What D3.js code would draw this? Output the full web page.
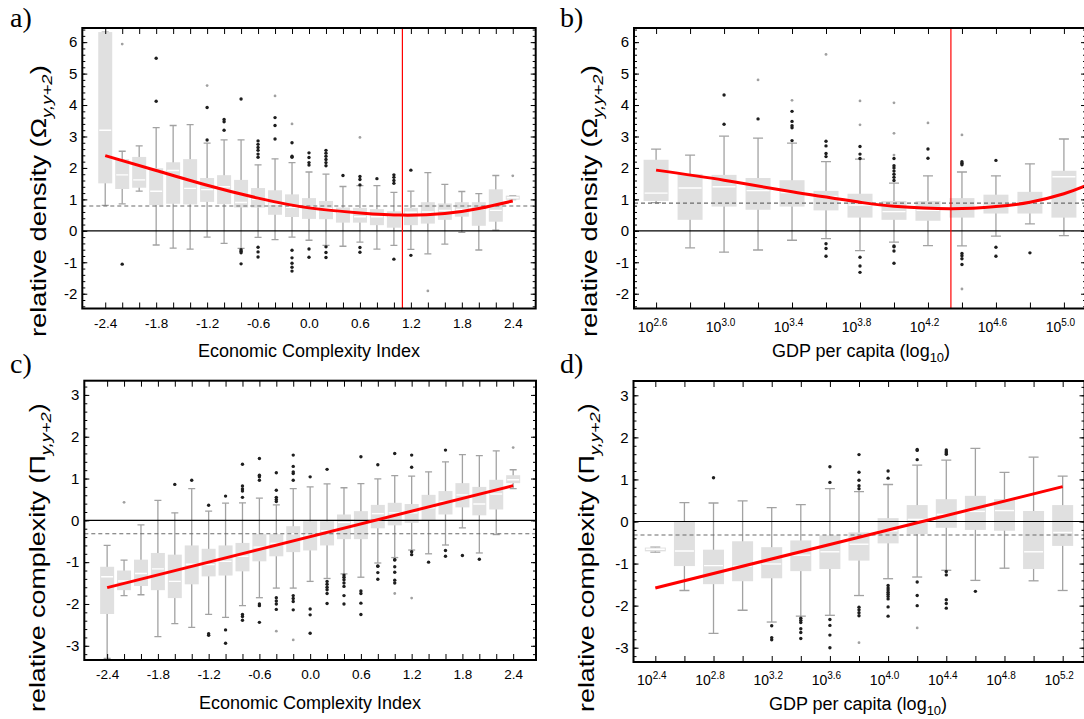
<!DOCTYPE html>
<html><head><meta charset="utf-8">
<script src="https://cdn.jsdelivr.net/npm/d3@7"></script>
<style>
body{margin:0;background:#fff}
svg{display:block}
text{font-family:"Liberation Sans",Arial,Helvetica,sans-serif;fill:#000}
</style>
</head><body>
<svg id="chart" width="1084" height="719"></svg>
<script>
// ---------- DATA ----------
const eciX = [-2.4,-2.2,-2.0,-1.8,-1.6,-1.4,-1.2,-1.0,-0.8,-0.6,-0.4,-0.2,0.0,0.2,0.4,0.6,0.8,1.0,1.2,1.4,1.6,1.8,2.0,2.2,2.4];
const eciLabels = [-2.4,-1.8,-1.2,-0.6,0.0,0.6,1.2,1.8,2.4];
const gdpXB = [2.6,2.8,3.0,3.2,3.4,3.6,3.8,4.0,4.2,4.4,4.6,4.8,5.0];
const gdpLabelsB = [2.6,3.0,3.4,3.8,4.2,4.6,5.0];
const gdpXD = [2.4,2.6,2.8,3.0,3.2,3.4,3.6,3.8,4.0,4.2,4.4,4.6,4.8,5.0,5.2];
const gdpLabelsD = [2.4,2.8,3.2,3.6,4.0,4.4,4.8,5.2];
const densityTicks = [-2,-1,0,1,2,3,4,5,6];
const complexityTicks = [-3,-2,-1,0,1,2,3];

// a) relative density vs ECI
const aLow  = [0.81,0.86,1.26,-0.45,-0.55,-0.58,-0.2,-0.4,-0.56,-0.21,-0.28,-0.2,-0.3,-0.46,-0.49,-0.36,-0.58,-0.46,-0.59,-0.73,-0.42,-0.05,-0.61,0.02,0.99];
const aQ1   = [1.51,1.33,1.37,0.82,0.86,0.84,0.92,0.85,0.74,0.74,0.51,0.44,0.38,0.37,0.26,0.26,0.18,0.1,0.18,0.23,0.35,0.45,0.16,0.29,0.99];
const aMed  = [3.2,1.78,1.62,1.26,1.92,1.35,1.31,1.4,0.9,1.0,0.85,0.75,0.76,0.71,0.59,0.45,0.45,0.47,0.59,0.6,0.65,0.68,0.69,0.65,1.05];
const aQ3   = [6.32,2.28,2.35,1.99,2.18,2.28,1.68,1.77,1.62,1.36,1.29,1.16,1.04,0.95,0.74,0.73,0.69,0.62,0.73,0.91,0.87,0.91,0.91,1.32,1.12];
const aHigh = [6.32,2.53,2.7,3.28,3.35,3.38,2.79,2.89,2.89,2.1,2.29,2.17,1.87,1.8,1.41,1.44,1.44,1.22,1.26,1.85,1.48,1.25,1.18,1.76,1.12];
const aOut  = [[],[-1.06],[],[4.12,5.49],[],[],[2.89,3.92],[3.2,3.47,3.54],[4.19,-0.6,-0.65,-0.7,-1.05],[2.34,2.44,2.56,2.65,2.75,2.86,-0.52,-0.67,-0.83],[2.92,3.35,3.6],[2.34,2.37,2.8,-0.62,-0.86,-1.03,-1.16,-1.28],[2.09,2.17,2.33,2.48,-0.58,-0.84],[2.07,2.17,2.27,2.37,2.47,2.56,-0.51,-0.69,-0.85],[1.76],[1.46,1.63,1.73,-0.53,-0.68],[1.66],[1.51,1.6,1.7,1.78,-0.9],[1.93,-0.78],[],[],[],[],[],[]];
const aFar  = [[],[5.94],[],[],[],[],[4.62],[],[],[],[4.29],[3.4],[],[],[],[2.97],[],[],[],[-1.91],[],[],[],[],[1.75]];
const aFitX = [-2.4,-1.8,-1.2,-0.6,0.0,0.6,1.1,1.6,2.0,2.4];
const aFitY = [2.39,1.92,1.45,1.04,0.73,0.57,0.5,0.55,0.71,0.95];
const aCut = 1.1, aRef = 0.79;

// b) relative density vs GDP per capita
const bLow  = [0.9,-0.54,-0.68,-0.61,-0.3,-0.25,-0.63,-0.36,-0.47,-0.48,-0.17,0.22,-0.15];
const bQ1   = [0.95,0.35,0.77,0.67,0.77,0.65,0.42,0.35,0.32,0.42,0.55,0.55,0.42];
const bMed  = [1.2,1.36,1.4,1.28,1.22,1.09,0.82,0.61,0.65,0.7,0.8,0.9,1.72];
const bQ3   = [2.26,1.81,1.78,1.68,1.61,1.27,1.18,0.95,0.95,1.04,1.15,1.24,1.91];
const bHigh = [2.6,2.41,3.01,2.95,2.79,2.2,2.28,1.52,1.75,1.87,1.75,2.13,2.92];
const bOut  = [[],[],[3.39,4.32],[3.56],[2.87,3.28,3.34,3.48,3.8],[2.36,2.46,2.7,2.85,-0.41,-0.56,-0.81],[2.3,2.44,2.68,-0.84,-1.12,-1.32],[1.6,1.7,1.8,1.9,2.0,2.07,2.3,-0.48,-0.51,-0.64,-1.03],[2.31,2.6],[2.1,2.15,2.2,-0.72,-0.79,-0.89,-1.07],[2.24,-0.52,-0.81],[-0.7],[]];
const bFar  = [[],[],[],[4.8],[4.15],[5.61],[3.37,4.13],[2.41,3.1,4.07],[3.43],[3.05,-1.85],[],[],[]];
const bFitX = [2.6,3.0,3.4,3.8,4.0,4.33,4.6,4.8,5.0,5.13];
const bFitY = [1.93,1.61,1.24,0.91,0.78,0.7,0.77,0.91,1.18,1.44];
const bCut = 4.335, bRef = 0.88;

// c) relative complexity vs ECI
const cLow  = [-3.3,-1.8,-1.78,-2.78,-2.47,-2.56,-2.25,-2.32,-2.04,-1.85,-1.62,-1.62,-1.46,-1.39,-1.28,-1.36,-1.02,-0.89,-0.71,-0.8,-0.59,-0.18,-0.78,-0.34,0.76];
const cQ1   = [-2.24,-1.67,-1.57,-1.67,-1.86,-1.53,-1.34,-1.32,-1.22,-0.98,-0.86,-0.76,-0.72,-0.6,-0.45,-0.45,-0.19,-0.12,-0.06,0.0,0.14,0.31,0.12,0.26,0.89];
const cMed  = [-1.35,-1.45,-1.27,-1.16,-1.46,-1.05,-1.06,-0.98,-0.86,-0.64,-0.55,-0.32,-0.35,-0.25,-0.05,0.0,0.16,0.18,0.18,0.3,0.45,0.61,0.39,0.63,0.97];
const cQ3   = [-1.11,-1.2,-0.94,-0.78,-0.82,-0.6,-0.68,-0.6,-0.54,-0.33,-0.33,-0.14,-0.02,-0.02,0.14,0.22,0.37,0.42,0.39,0.61,0.7,0.89,0.8,0.97,1.08];
const cHigh = [-0.6,-0.95,-0.11,0.48,0.18,0.76,0.22,0.41,0.42,0.53,0.37,0.76,0.8,0.87,0.78,0.88,0.99,1.07,1.06,1.16,1.4,1.57,1.55,1.66,1.21];
const cOut  = [[],[],[],[],[0.86],[0.96],[0.36,-2.71,-2.75],[0.58,-2.62,-2.94],[0.55,0.7,0.75,0.82,1.34,-2.25,-2.3,-2.39],[0.96,1.04,1.08,1.48,-2.0,-2.04,-2.44],[0.45,0.5,0.55,0.72,1.14,-1.85,-1.93,-2.0,-2.13],[0.96,1.12,1.16,1.29,1.56,-1.8,-1.87,-1.94,-2.14],[1.04,-2.12,-2.26,-2.7],[1.22,-1.46,-1.53,-1.6,-1.66,-1.75,-1.99],[-1.31,-1.36,-1.42,-1.5,-1.58,-1.8,-2.0],[1.52,-1.69,-1.75,-1.98,-2.25],[1.33,-1.09,-1.1,-1.25,-1.41],[1.6,-0.94,-0.95,-1.11,-1.24,-1.43,-1.5],[1.27,1.56,-0.75,-0.82],[-1.0],[1.68,-0.72,-0.86],[-0.84],[-0.93],[],[]];
const cFar  = [[],[0.43],[],[],[],[],[],[],[],[],[-2.65],[-2.86],[],[],[],[],[],[-1.75],[-1.86],[],[],[],[],[],[1.74]];
const cFitX = [-2.4,2.4];
const cFitY = [-1.61,0.83];
const cRef = -0.32;

// d) relative complexity vs GDP per capita
const dLow  = [-0.73,-1.64,-2.66,-2.11,-2.39,-2.25,-2.23,-1.76,-1.36,-1.32,-1.16,-1.4,-1.11,-1.41,-1.64];
const dQ1   = [-0.71,-1.06,-1.49,-1.42,-1.35,-1.18,-1.13,-0.93,-0.52,-0.3,-0.15,-0.2,-0.22,-1.13,-0.58];
const dMed  = [-0.66,-0.7,-1.05,-1.06,-1.01,-0.8,-0.72,-0.54,-0.22,0.05,0.17,0.24,0.26,-0.72,-0.26];
const dQ3   = [-0.62,-0.01,-0.67,-0.47,-0.61,-0.45,-0.33,-0.26,0.08,0.39,0.53,0.61,0.53,0.25,0.39];
const dHigh = [-0.61,0.45,0.44,0.49,0.33,0.4,0.78,0.71,0.88,1.34,1.46,1.74,1.17,1.53,1.08];
const dOut  = [[],[],[1.04],[],[-2.48,-2.76,-2.81],[-2.3,-2.35,-2.4,-2.55,-2.64,-2.78],[0.93,1.3,-2.33,-2.47,-2.7,-3.0],[0.78,0.85,0.98,1.17,1.59,-2.04,-2.1,-2.17,-2.24],[1.03,1.2,-1.52,-1.58,-1.63,-1.68,-1.73,-1.78,-1.84,-2.03,-2.25],[1.47,1.69,1.71,-1.44,-1.76,-2.0],[1.6,1.63,1.66,1.7,-1.19,-1.27,-1.86,-1.95,-2.06],[-1.66],[],[],[]];
const dFar  = [[],[],[],[],[],[],[],[-2.88],[],[-2.53],[],[],[],[],[]];
const dFitX = [2.4,5.2];
const dFitY = [-1.58,0.83];
const dRef = -0.32;

// ---------- DRAWING ----------
const svg = d3.select("#chart");
const near = (arr, v) => arr.some(a => Math.abs(a - v) < 1e-6);

function drawPanel(p) {
  const x = d3.scaleLinear().domain(p.xd).range([p.L, p.R]);
  const y = d3.scaleLinear().domain(p.yd).range([p.B, p.T]);
  const g = svg.append("g");
  svg.append("clipPath").attr("id", "clip" + p.id)
    .append("rect").attr("x", p.L).attr("y", p.T).attr("width", p.R - p.L).attr("height", p.B - p.T);
  const c = g.append("g").attr("clip-path", `url(#clip${p.id})`);
  const idx = d3.range(p.xs.length);

  // whiskers
  c.selectAll(".wk").data(idx).join("line")
    .attr("x1", i => x(p.xs[i])).attr("x2", i => x(p.xs[i]))
    .attr("y1", i => y(p.lo[i])).attr("y2", i => y(p.hi[i]))
    .attr("stroke", "#a2a2a2").attr("stroke-width", 1.3);
  [p.lo, p.hi].forEach(arr => {
    c.append("g").selectAll("line").data(idx).join("line")
      .attr("x1", i => x(p.xs[i]) - p.cap / 2).attr("x2", i => x(p.xs[i]) + p.cap / 2)
      .attr("y1", i => y(arr[i])).attr("y2", i => y(arr[i]))
      .attr("stroke", "#a2a2a2").attr("stroke-width", 1.3);
  });
  // boxes
  c.append("g").selectAll("rect").data(idx).join("rect")
    .attr("x", i => x(p.xs[i]) - p.bw / 2).attr("width", p.bw)
    .attr("y", i => y(p.q3[i])).attr("height", i => Math.max(1, y(p.q1[i]) - y(p.q3[i])))
    .attr("fill", "#e0e0e0");
  c.append("g").selectAll("line").data(idx).join("line")
    .attr("x1", i => x(p.xs[i]) - p.bw / 2 + 1).attr("x2", i => x(p.xs[i]) + p.bw / 2 - 1)
    .attr("y1", i => y(p.med[i])).attr("y2", i => y(p.med[i]))
    .attr("stroke", "#fff").attr("stroke-width", 1.4);
  // outliers
  const outs = idx.flatMap(i => p.out[i].map(v => [p.xs[i], v]));
  const fars = idx.flatMap(i => p.far[i].map(v => [p.xs[i], v]));
  c.append("g").selectAll("circle").data(fars).join("circle")
    .attr("cx", d => x(d[0])).attr("cy", d => y(d[1])).attr("r", 1.4).attr("fill", "#a0a0a0");
  c.append("g").selectAll("circle").data(outs).join("circle")
    .attr("cx", d => x(d[0])).attr("cy", d => y(d[1])).attr("r", 1.7).attr("fill", "#1e1e1e");
  // reference lines
  c.append("line").attr("x1", p.L).attr("x2", p.R).attr("y1", y(p.ref)).attr("y2", y(p.ref))
    .attr("stroke", "#6a6a6a").attr("stroke-width", 1.1).attr("stroke-dasharray", "4,3");
  c.append("line").attr("x1", p.L).attr("x2", p.R).attr("y1", y(0)).attr("y2", y(0))
    .attr("stroke", "#000").attr("stroke-width", 1.2);
  // fit
  const line = d3.line().x(d => x(d[0])).y(d => y(d[1])).curve(d3.curveNatural);
  c.append("path").datum(p.fitX.map((v, i) => [v, p.fitY[i]])).attr("d", line)
    .attr("fill", "none").attr("stroke", "#ff0000").attr("stroke-width", 3);
  if (p.cut != null) {
    c.append("line").attr("x1", x(p.cut)).attr("x2", x(p.cut)).attr("y1", p.T).attr("y2", p.B)
      .attr("stroke", "#ff0000").attr("stroke-width", 1.2);
  }

  // axes
  const fontFam = '"Liberation Sans", Arial, sans-serif';
  const gx = g.append("g").attr("transform", `translate(0,${p.B})`)
    .call(d3.axisBottom(x).tickValues(p.xs).tickSize(-6).tickFormat(d => near(p.xl, d) ? d.toFixed(1) : ""));
  gx.select(".domain").remove();
  gx.attr("font-family", fontFam).attr("font-size", p.sup ? 14 : 13.5);
  gx.selectAll("text").attr("y", p.sup ? 23 : 19).attr("dy", null);
  if (p.sup) {
    gx.selectAll("text").each(function(d) {
      const t = d3.select(this);
      if (!near(p.xl, d)) return;
      t.text("");
      t.attr("dx", -4);
      t.append("tspan").text("10");
      t.append("tspan").attr("dy", -6).attr("font-size", 10).text(d.toFixed(1));
    });
  }
  const gt = g.append("g").attr("transform", `translate(0,${p.T})`)
    .call(d3.axisTop(x).tickValues(p.xs).tickSize(-6).tickFormat(""));
  gt.select(".domain").remove();

  const minors = p.yMinor;
  const gyl = g.append("g").attr("transform", `translate(${p.L},0)`)
    .call(d3.axisLeft(y).tickValues(p.yt).tickSize(-5).tickPadding(5).tickFormat(d => String(d)));
  gyl.select(".domain").remove();
  gyl.attr("font-family", fontFam).attr("font-size", 15);
  const gyl2 = g.append("g").attr("transform", `translate(${p.L},0)`)
    .call(d3.axisLeft(y).tickValues(minors).tickSize(-3).tickFormat(""));
  gyl2.select(".domain").remove();
  const gyr = g.append("g").attr("transform", `translate(${p.R},0)`)
    .call(d3.axisRight(y).tickValues(p.yt).tickSize(-5).tickFormat(""));
  gyr.select(".domain").remove();
  const gyr2 = g.append("g").attr("transform", `translate(${p.R},0)`)
    .call(d3.axisRight(y).tickValues(minors).tickSize(-3).tickFormat(""));
  gyr2.select(".domain").remove();

  // frame
  g.append("rect").attr("x", p.L).attr("y", p.T).attr("width", p.R - p.L).attr("height", p.B - p.T)
    .attr("fill", "none").attr("stroke", "#000").attr("stroke-width", 2);

  // x title
  const xt = g.append("text").attr("x", p.xtX).attr("y", p.xtY).attr("text-anchor", "middle")
    .attr("font-size", 18);
  if (p.gdp) {
    xt.append("tspan").text("GDP per capita (log");
    xt.append("tspan").attr("dy", 5).attr("font-size", 13).text("10");
    xt.append("tspan").attr("dy", -5).text(")");
  } else {
    xt.text("Economic Complexity Index");
  }
  // y title
  const yt = g.append("text").attr("font-size", 22);
  yt.append("tspan").text(p.yName);
  yt.append("tspan").attr("dy", 6).attr("font-size", 15).attr("font-style", "italic").text("y,y+2");
  yt.append("tspan").attr("dy", -6).text(")");
  const len = yt.node().getComputedTextLength();
  const k = p.ytLen / len;
  yt.attr("transform", `translate(${p.ytX},${p.ytY}) rotate(-90) scale(${k},1)`);

  // panel letter
  svg.append("text").attr("x", p.lx).attr("y", p.ly).attr("font-size", 28)
    .style("font-family", '"Liberation Serif", "Times New Roman", serif').text(p.letter);
}

const densMinor = d3.range(-12, 33).map(i => i / 5);
const compMinor = d3.range(-16, 17).map(i => i / 5);

drawPanel({id: "a", letter: "a)", lx: 10, ly: 27,
  L: 82.3, R: 535.7, T: 28, B: 308.5, xd: [-2.67, 2.67], yd: [-2.47, 6.45],
  xs: eciX, xl: eciLabels, yt: densityTicks, yMinor: densMinor,
  lo: aLow, q1: aQ1, med: aMed, q3: aQ3, hi: aHigh, out: aOut, far: aFar,
  fitX: aFitX, fitY: aFitY, cut: aCut, ref: aRef, bw: 14, cap: 7,
  xtX: 309, xtY: 357, yName: "relative density  (\u03A9", ytX: 46, ytY: 337, ytLen: 272});

drawPanel({id: "b", letter: "b)", lx: 560, ly: 27, sup: true, gdp: true,
  L: 634, R: 1086, T: 28, B: 308.5, xd: [2.47, 5.13], yd: [-2.47, 6.45],
  xs: gdpXB, xl: gdpLabelsB, yt: densityTicks, yMinor: densMinor,
  lo: bLow, q1: bQ1, med: bMed, q3: bQ3, hi: bHigh, out: bOut, far: bFar,
  fitX: bFitX, fitY: bFitY, cut: bCut, ref: bRef, bw: 25, cap: 10,
  xtX: 861, xtY: 357, yName: "relative density  (\u03A9", ytX: 597, ytY: 337, ytLen: 272});

drawPanel({id: "c", letter: "c)", lx: 10, ly: 373,
  L: 84.3, R: 536, T: 380.7, B: 660, xd: [-2.67, 2.67], yd: [-3.34, 3.34],
  xs: eciX, xl: eciLabels, yt: complexityTicks, yMinor: compMinor,
  lo: cLow, q1: cQ1, med: cMed, q3: cQ3, hi: cHigh, out: cOut, far: cFar,
  fitX: cFitX, fitY: cFitY, cut: null, ref: cRef, bw: 14, cap: 7,
  xtX: 310, xtY: 709, yName: "relative complexity (\u03A0", ytX: 45, ytY: 712, ytLen: 309});

drawPanel({id: "d", letter: "d)", lx: 560, ly: 373, sup: true, gdp: true,
  L: 633.5, R: 1084.5, T: 381, B: 662, xd: [2.25, 5.35], yd: [-3.34, 3.34],
  xs: gdpXD, xl: gdpLabelsD, yt: complexityTicks, yMinor: compMinor,
  lo: dLow, q1: dQ1, med: dMed, q3: dQ3, hi: dHigh, out: dOut, far: dFar,
  fitX: dFitX, fitY: dFitY, cut: null, ref: dRef, bw: 21, cap: 10,
  xtX: 858, xtY: 710, yName: "relative complexity (\u03A0", ytX: 594, ytY: 712, ytLen: 309});
</script>
</body></html>
